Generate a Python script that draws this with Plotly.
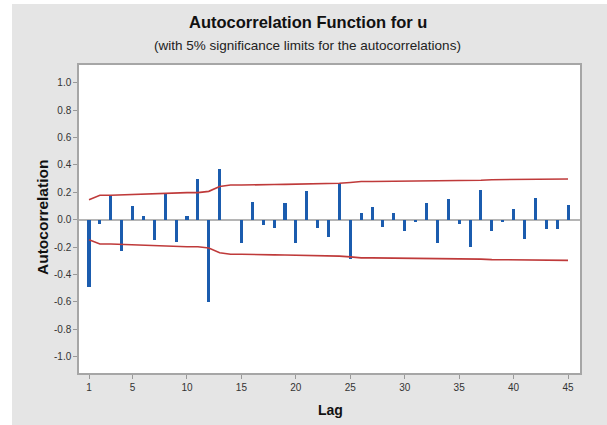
import plotly.graph_objects as go

lags = list(range(1, 46))
acf = [-0.49, -0.03, 0.17, -0.23, 0.10, 0.03, -0.15, 0.19, -0.16, 0.03,
       0.30, -0.60, 0.37, 0.0, -0.17, 0.13, -0.04, -0.06, 0.12, -0.17,
       0.21, -0.06, -0.13, 0.27, -0.29, 0.05, 0.09, -0.05, 0.05, -0.08,
       -0.02, 0.12, -0.17, 0.15, -0.03, -0.20, 0.22, -0.08, -0.02, 0.08,
       -0.14, 0.16, -0.07, -0.07, 0.11]
upper_limit = [0.146, 0.178, 0.178, 0.181, 0.187, 0.188, 0.189, 0.191, 0.195, 0.198,
               0.198, 0.207, 0.242, 0.253, 0.253, 0.256, 0.257, 0.257, 0.258, 0.259,
               0.261, 0.265, 0.265, 0.266, 0.272, 0.279, 0.279, 0.280, 0.280, 0.280,
               0.280, 0.280, 0.281, 0.284, 0.285, 0.285, 0.288, 0.292, 0.292, 0.292,
               0.293, 0.294, 0.296, 0.296, 0.297]
lower_limit = [-v for v in upper_limit]
x_ticks = [1, 5, 10, 15, 20, 25, 30, 35, 40, 45]
y_ticks = [1.0, 0.8, 0.6, 0.4, 0.2, 0.0, -0.2, -0.4, -0.6, -0.8, -1.0]
y_tick_labels = ["1.0", "0.8", "0.6", "0.4", "0.2", "0.0", "-0.2", "-0.4", "-0.6", "-0.8", "-1.0"]

FONT = "Liberation Sans, Arial, sans-serif"

fig = go.Figure()
fig.add_trace(go.Bar(x=lags, y=acf, width=0.28, marker=dict(color="#1b5cae", line=dict(width=0)),
                     showlegend=False))
fig.add_trace(go.Scatter(x=lags, y=upper_limit, mode="lines",
                         line=dict(color="#bf3a3a", width=1.6), showlegend=False))
fig.add_trace(go.Scatter(x=lags, y=lower_limit, mode="lines",
                         line=dict(color="#bf3a3a", width=1.6), showlegend=False))

L, R, T, B = 79, 27, 65, 52
W, H = 607, 425
pw, ph = W - L - R, H - T - B


def px_to_paper_y(py):
    return (H - B - py) / ph


def px_to_paper_x(px):
    return (px - L) / pw


fig.update_layout(
    width=W, height=H,
    margin=dict(l=L, r=R, t=T, b=B),
    paper_bgcolor="#e5e5e5",
    plot_bgcolor="white",
    font=dict(family=FONT, color="#333333"),
    bargap=0,
    xaxis=dict(range=[0.08, 46.1], tickvals=x_ticks, ticks="outside", ticklen=4,
               tickcolor="#999999", tickwidth=1, showgrid=False, zeroline=False,
               showline=True, mirror=True, linecolor="#a6a6a6", linewidth=1.5,
               tickfont=dict(size=10, color="#333333")),
    yaxis=dict(range=[-1.12, 1.13], tickvals=y_ticks, ticktext=y_tick_labels,
               ticks="outside", ticklen=4, tickcolor="#999999", tickwidth=1,
               showgrid=False, zeroline=True, zerolinecolor="#b5b5b5", zerolinewidth=2,
               showline=True, mirror=True, linecolor="#a6a6a6", linewidth=1.5,
               tickfont=dict(size=10, color="#333333")),
    annotations=[
        dict(text="<b>Autocorrelation Function for u</b>", xref="paper", yref="paper",
             x=px_to_paper_x(308), y=px_to_paper_y(22), xanchor="center", yanchor="middle",
             showarrow=False, font=dict(size=16.5, color="#111111", family=FONT)),
        dict(text="(with 5% significance limits for the autocorrelations)", xref="paper",
             yref="paper", x=px_to_paper_x(307), y=px_to_paper_y(45), xanchor="center",
             yanchor="middle", showarrow=False, font=dict(size=13.5, color="#222222", family=FONT)),
        dict(text="<b>Lag</b>", xref="paper", yref="paper",
             x=px_to_paper_x(330), y=px_to_paper_y(410), xanchor="center", yanchor="middle",
             showarrow=False, font=dict(size=14, color="#111111", family=FONT)),
        dict(text="<b>Autocorrelation</b>", xref="paper", yref="paper", textangle=-90,
             x=px_to_paper_x(42), y=px_to_paper_y(218), xanchor="center", yanchor="middle",
             showarrow=False, font=dict(size=15.5, color="#111111", family=FONT)),
    ],
    shapes=[
        dict(type="rect", xref="paper", yref="paper", x0=px_to_paper_x(-2), x1=px_to_paper_x(12),
             y0=px_to_paper_y(430), y1=px_to_paper_y(-2), fillcolor="white", line=dict(width=0)),
        dict(type="rect", xref="paper", yref="paper", x0=px_to_paper_x(-2), x1=px_to_paper_x(610),
             y0=px_to_paper_y(4), y1=px_to_paper_y(-2), fillcolor="white", line=dict(width=0)),
    ],
)

fig.write_html("out.html")
